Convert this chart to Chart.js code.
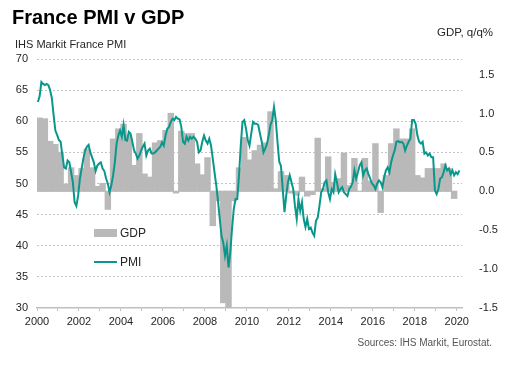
<!DOCTYPE html>
<html>
<head>
<meta charset="utf-8">
<script src="https://cdn.jsdelivr.net/npm/chart.js@4.4.1/dist/chart.umd.min.js"></script>
<style>
html,body{margin:0;padding:0;background:#ffffff;}
#wrap{width:509px;height:370px;position:relative;}
</style>
</head>
<body>
<div id="wrap"><canvas id="c" width="509" height="370"></canvas></div>
<script>
// ---- Data ----
// IHS Markit France PMI, monthly, Jan 2000 - Feb 2020
const pmi2000 = [63.1, 64.0, 66.3, 66.0, 65.8, 66.0, 65.8, 65.0, 63.7, 61.0, 58.5, 57.8];
const pmi2001 = [57.0, 56.7, 54.5, 52.6, 52.4, 53.7, 53.4, 51.8, 50.2, 47.0, 46.4, 48.0];
const pmi2002 = [50.7, 52.4, 54.0, 55.3, 55.9, 56.2, 55.0, 54.2, 53.4, 52.0, 52.9, 53.2];
const pmi2003 = [53.4, 52.4, 52.0, 50.8, 50.0, 48.6, 49.7, 51.3, 53.4, 56.4, 57.7, 58.5];
const pmi2004 = [57.5, 59.4, 57.0, 56.9, 58.3, 58.0, 56.7, 55.3, 54.8, 54.0, 54.5, 55.3];
const pmi2005 = [55.9, 56.4, 54.5, 55.3, 55.6, 54.8, 54.8, 55.0, 55.3, 55.6, 55.9, 56.6];
const pmi2006 = [56.1, 57.7, 58.8, 59.1, 59.9, 60.4, 60.2, 60.7, 60.4, 60.3, 59.1, 56.7];
const pmi2007 = [56.4, 57.5, 56.9, 57.5, 57.2, 57.5, 57.2, 56.7, 55.0, 55.3, 56.7, 57.7];
const pmi2008 = [56.9, 56.4, 57.2, 56.1, 54.0, 51.8, 49.7, 47.2, 44.3, 41.6, 40.5, 38.4];
const pmi2009 = [40.0, 36.5, 38.9, 42.7, 45.9, 47.5, 47.5, 51.3, 56.1, 59.9, 60.2, 58.8];
const pmi2010 = [57.0, 56.1, 58.0, 59.9, 59.6, 59.6, 59.4, 58.0, 56.7, 55.0, 55.6, 56.4];
const pmi2011 = [57.7, 59.4, 60.2, 62.3, 60.2, 56.7, 53.5, 52.8, 49.1, 45.4, 48.1, 50.2];
const pmi2012 = [51.3, 50.2, 49.1, 46.4, 44.3, 47.5, 45.6, 47.0, 44.3, 43.0, 44.3, 42.7];
const pmi2013 = [42.9, 42.1, 41.6, 44.0, 44.5, 46.4, 48.6, 49.1, 50.2, 50.5, 48.6, 47.5];
const pmi2014 = [49.1, 48.6, 51.5, 50.2, 48.6, 49.1, 49.4, 48.6, 48.3, 48.0, 49.1, 49.5];
const pmi2015 = [50.2, 52.1, 50.8, 51.8, 52.9, 53.4, 51.3, 52.1, 52.4, 51.5, 50.8, 50.0];
const pmi2016 = [49.7, 49.1, 50.0, 50.5, 50.2, 49.4, 51.0, 52.1, 52.6, 51.8, 53.4, 54.5];
const pmi2017 = [55.3, 56.7, 56.8, 56.6, 56.7, 56.4, 55.3, 56.1, 56.7, 57.2, 60.2, 60.2];
const pmi2018 = [59.6, 57.7, 56.7, 56.4, 56.7, 54.8, 55.0, 54.5, 54.8, 54.2, 54.2, 48.9];
const pmi2019 = [48.3, 49.1, 50.8, 51.0, 51.8, 52.9, 52.1, 52.4, 51.5, 52.1, 51.3, 51.8];
const pmi2020 = [51.5, 52.1];

// GDP q/q %, quarterly, 2000Q1 - 2019Q4
const gdp2000s = [0.94, 0.93, 0.64, 0.60,  0.50, 0.09, 0.30, 0.20,  0.29, 0.54, 0.30, 0.06,
                  0.10, -0.23, 0.67, 0.80,  0.86, 0.72, 0.33, 0.74,  0.22, 0.18, 0.62, 0.65,
                  0.78, 1.00, -0.02, 0.77,  0.74, 0.74, 0.35, 0.21,  0.43, -0.44, -0.12, -1.43,
                  -1.55, -0.12, 0.30, 0.69];
const gdp2010s = [0.40, 0.52, 0.59, 0.62,  1.02, 0.03, 0.25, 0.20,  -0.02, -0.05, 0.18, -0.06,
                  -0.04, 0.68, 0.03, 0.44,  0.11, 0.16, 0.49, 0.07,  0.42, 0.00, 0.42, 0.13,
                  0.61, -0.27, 0.20, 0.61,  0.80, 0.67, 0.67, 0.80,  0.20, 0.17, 0.29, 0.29,
                  0.29, 0.35, 0.29, -0.09];

// Axis ticks and labels
const xTickYears = [2000, 2001, 2002, 2003, 2004, 2005, 2006, 2007, 2008, 2009, 2010,
                    2011, 2012, 2013, 2014, 2015, 2016, 2017, 2018, 2019, 2020];
const xTickLabels = ['2000', '2002', '2004', '2006', '2008', '2010', '2012', '2014', '2016', '2018', '2020'];
const pmiTicks = [30, 35, 40, 45, 50, 55, 60, 65, 70];
const gdpTicks = [-1.5, -1.0, -0.5, 0.0, 0.5, 1.0, 1.5];

const startYear = 2000;
const pmi = [].concat(pmi2000, pmi2001, pmi2002, pmi2003, pmi2004, pmi2005, pmi2006,
  pmi2007, pmi2008, pmi2009, pmi2010, pmi2011, pmi2012, pmi2013, pmi2014, pmi2015,
  pmi2016, pmi2017, pmi2018, pmi2019, pmi2020);
const gdp = [].concat(gdp2000s, gdp2010s);

const pmiPoints = pmi.map((v, i) => ({ x: startYear + (i + 0.5) / 12, y: v }));
const gdpPoints = gdp.map((v, q) => ({ x: startYear + (q + 0.5) / 4, y: v }));

const TEAL = '#0a978b';
const GREY = '#b9b9b9';
const FONT = "'Liberation Sans', Arial, Helvetica, sans-serif";

Chart.defaults.font.family = FONT;

const textPlugin = {
  id: 'texts',
  afterDraw(chart) {
    const ctx = chart.ctx;
    ctx.save();
    ctx.fillStyle = '#000000';
    ctx.textBaseline = 'alphabetic';
    ctx.textAlign = 'left';
    ctx.font = "bold 20px " + FONT;
    ctx.fillText('France PMI v GDP', 12, 24);

    ctx.fillStyle = '#262626';
    ctx.font = "11px " + FONT;
    ctx.fillText('IHS Markit France PMI', 15, 47.5);
    ctx.textAlign = 'right';
    ctx.font = "11.5px " + FONT;
    ctx.fillText('GDP, q/q%', 493, 35.5);

    ctx.fillStyle = '#555555';
    ctx.font = "10px " + FONT;
    ctx.fillText('Sources: IHS Markit, Eurostat.', 492, 345.5);

    // legend
    const ds = chart.data.datasets;
    ctx.fillStyle = ds[1].backgroundColor;
    ctx.fillRect(94, 229, 23, 8);
    ctx.strokeStyle = ds[0].borderColor;
    ctx.lineWidth = 2;
    ctx.beginPath();
    ctx.moveTo(94, 262);
    ctx.lineTo(117, 262);
    ctx.stroke();
    ctx.fillStyle = '#262626';
    ctx.textAlign = 'left';
    ctx.textBaseline = 'middle';
    ctx.font = "12px " + FONT;
    ctx.fillText(ds[1].label, 120, 233.5);
    ctx.fillText(ds[0].label, 120, 262.5);
    ctx.restore();
  }
};

new Chart(document.getElementById('c'), {
  type: 'line',
  data: {
    datasets: [
      {
        type: 'line',
        label: 'PMI',
        data: pmiPoints,
        yAxisID: 'y',
        borderColor: TEAL,
        borderWidth: 2,
        pointRadius: 0,
        tension: 0,
        order: 0
      },
      {
        type: 'bar',
        label: 'GDP',
        data: gdpPoints,
        yAxisID: 'y1',
        backgroundColor: GREY,
        borderWidth: 0,
        inflateAmount: 0.6,
        barPercentage: 1,
        categoryPercentage: 1,
        order: 1
      }
    ]
  },
  options: {
    responsive: false,
    devicePixelRatio: 1,
    animation: false,
    layout: { padding: { top: 59, bottom: 42, left: 0, right: 0 } },
    plugins: {
      legend: { display: false },
      title: { display: false },
      tooltip: { enabled: false }
    },
    scales: {
      x: {
        type: 'linear',
        position: 'bottom',
        min: 2000,
        max: 2020.25,
        offset: false,
        grid: { display: true, offset: false, drawOnChartArea: false, drawTicks: true, tickLength: 3, color: '#bfbfbf', tickColor: '#bfbfbf' },
        border: { display: true, color: '#bfbfbf', width: 1.5 },
        afterBuildTicks: (s) => { s.ticks = xTickYears.map(v => ({ value: v })); },
        afterFit: (s) => { s.height = 20; },
        ticks: {
          autoSkip: false,
          maxRotation: 0,
          padding: 4,
          color: '#262626',
          font: { size: 11 },
          callback: (v) => xTickLabels.includes(String(v)) ? String(v) : ''
        }
      },
      y: {
        type: 'linear',
        position: 'left',
        min: 30,
        max: 70,
        grid: {
          drawTicks: false,
          lineWidth: 1,
          color: (c) => (c.tick && c.tick.value === 30) ? 'rgba(0,0,0,0)' : '#c4c4c4'
        },
        border: { display: false, dash: [2, 2] },
        afterBuildTicks: (s) => { s.ticks = pmiTicks.map(v => ({ value: v })); },
        afterFit: (s) => { s.width = 37; },
        ticks: { padding: 9, color: '#262626', font: { size: 11 } }
      },
      y1: {
        type: 'linear',
        position: 'right',
        min: -1.5,
        max: 1.7,
        grid: { display: false, drawOnChartArea: false },
        border: { display: false },
        afterBuildTicks: (s) => { s.ticks = gdpTicks.map(v => ({ value: v })); },
        afterFit: (s) => { s.width = 47; },
        ticks: {
          padding: 9,
          color: '#262626',
          font: { size: 11 },
          callback: (v) => Number(v).toFixed(1)
        }
      }
    }
  },
  plugins: [textPlugin]
});
</script>
</body>
</html>
